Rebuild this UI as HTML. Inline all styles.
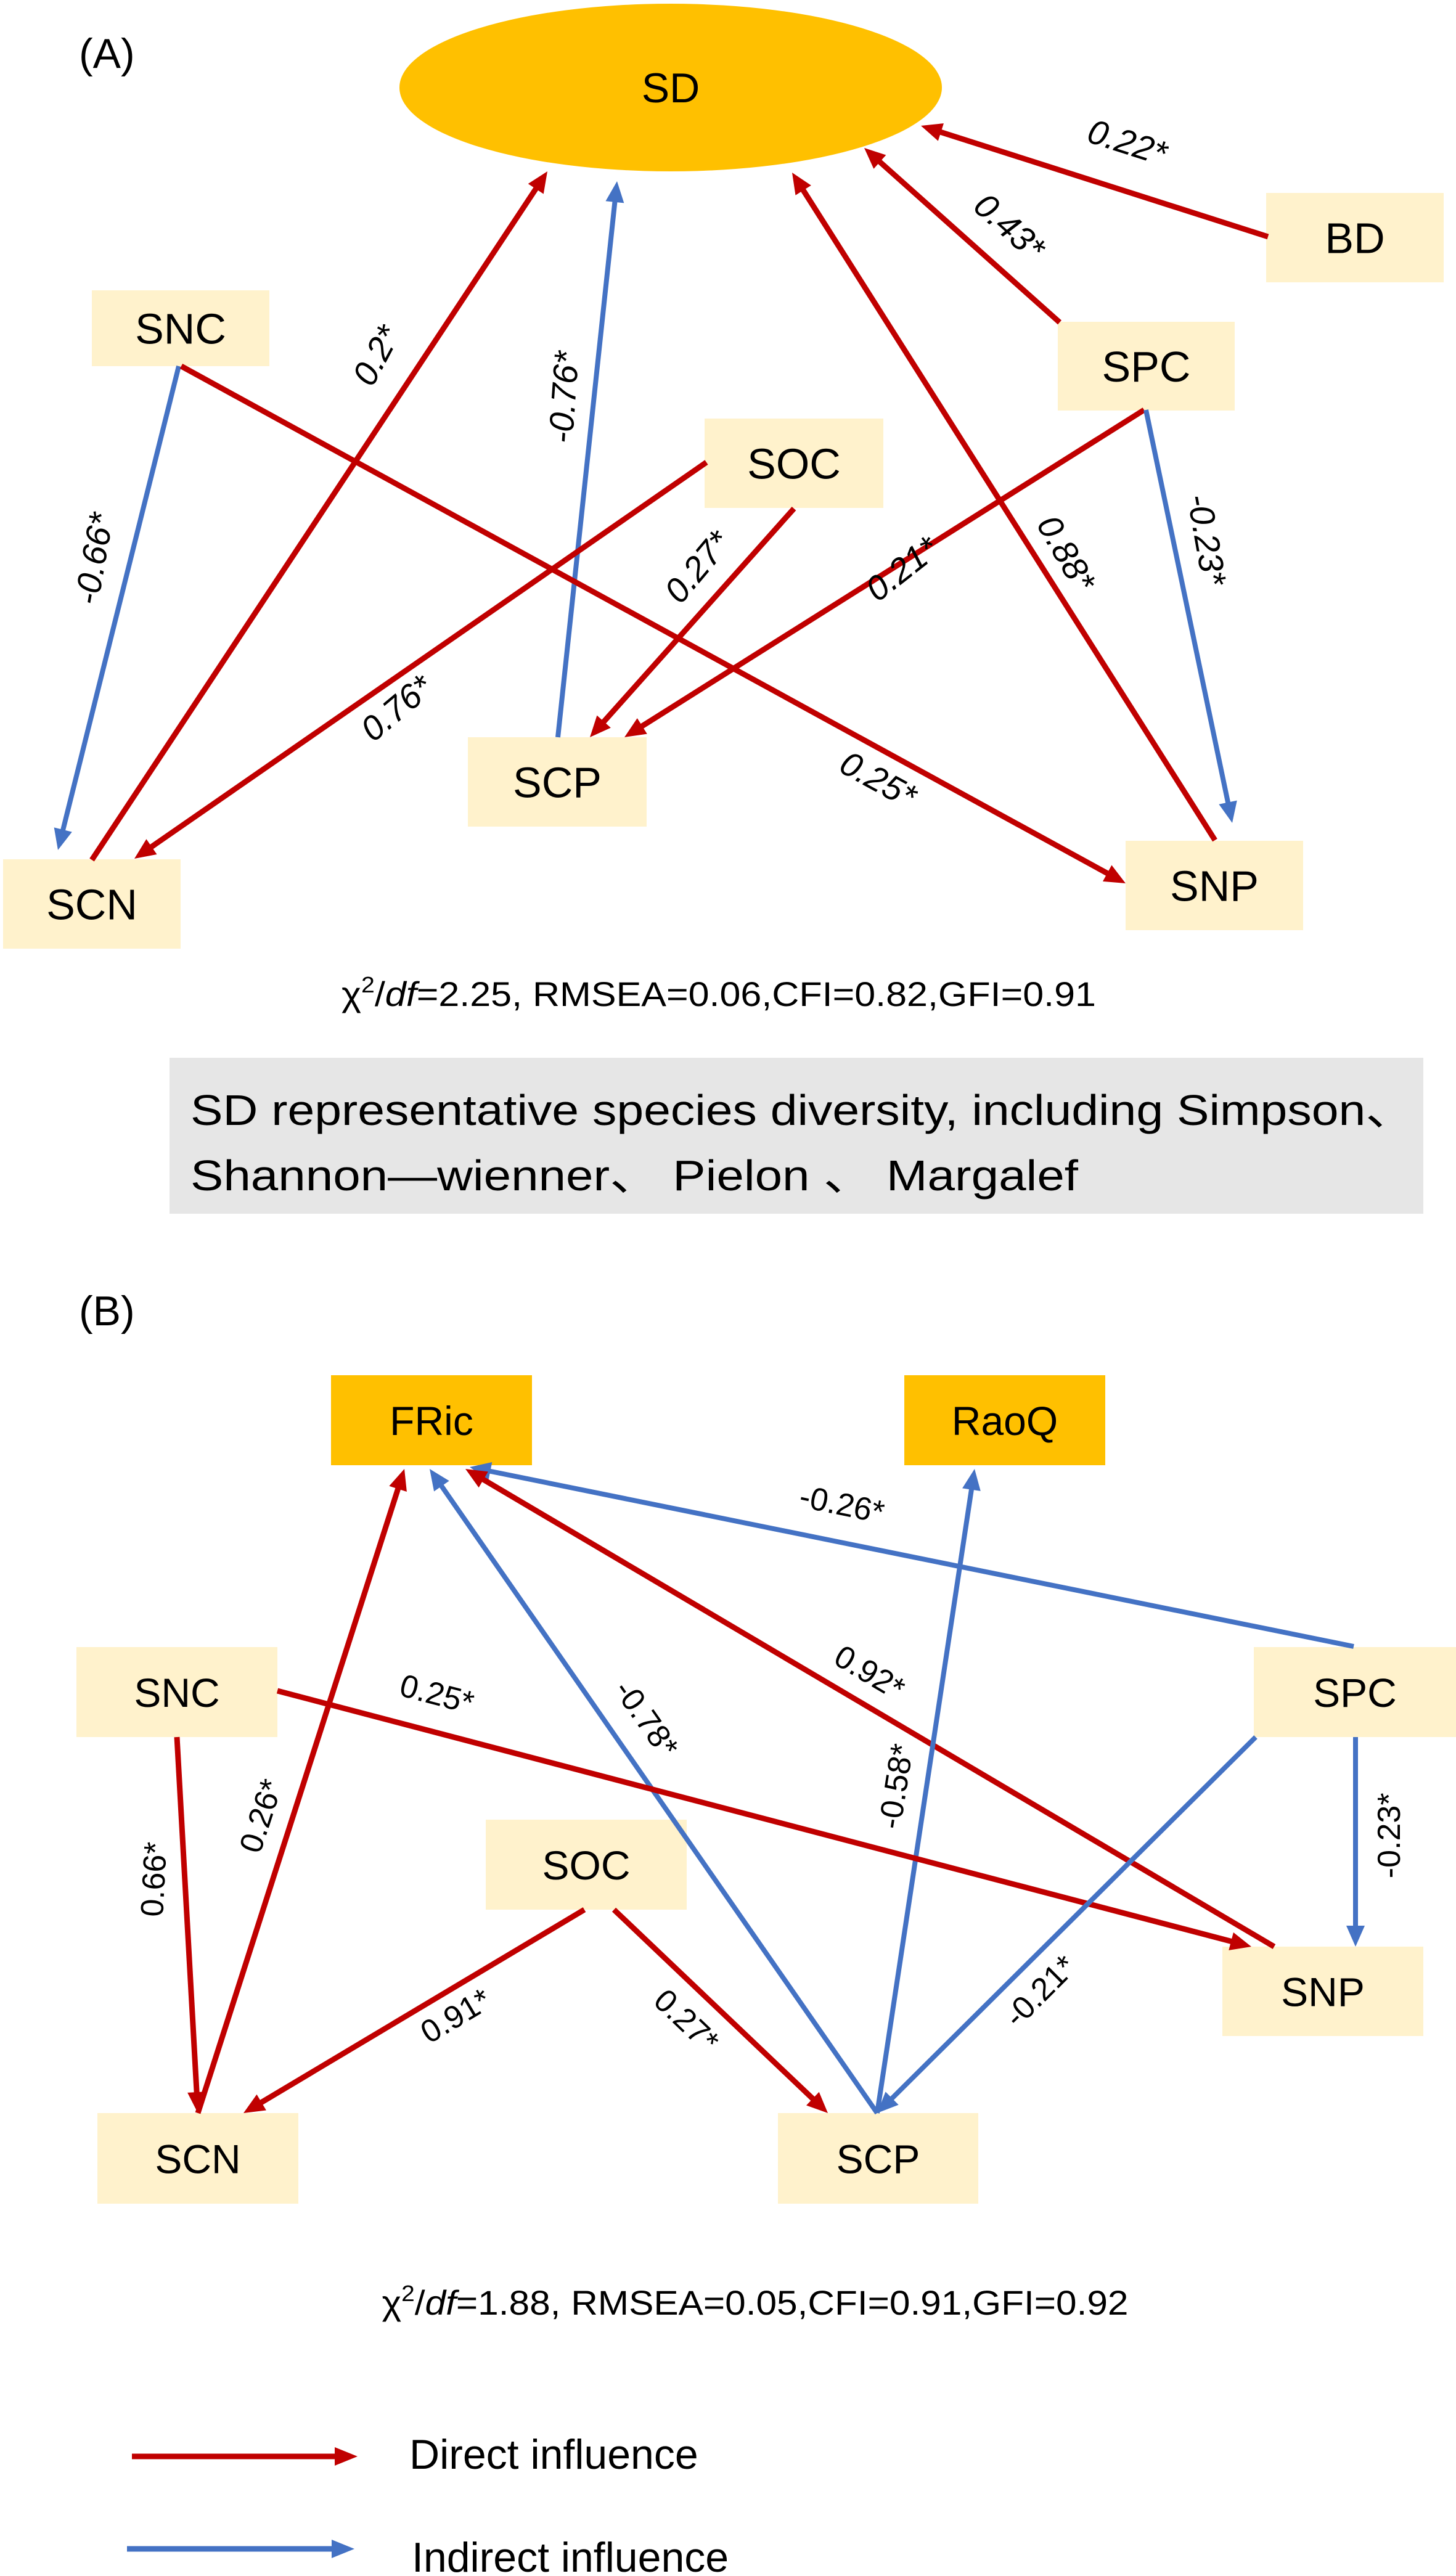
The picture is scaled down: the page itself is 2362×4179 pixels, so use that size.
<!DOCTYPE html>
<html><head><meta charset="utf-8"><style>
html,body{margin:0;padding:0;background:#fff}
svg{display:block}
text{font-family:"Liberation Sans","DejaVu Sans",sans-serif}
</style></head><body>
<svg id="fig" xmlns="http://www.w3.org/2000/svg" width="2362" height="4179" viewBox="0 0 2362 4179">
<rect x="0" y="0" width="2362" height="4179" fill="#fff"/>
<text x="128" y="110" font-size="68">(A)</text>
<ellipse cx="1088" cy="142" rx="440" ry="136" fill="#FFC000"/>
<text x="1088" y="166" font-size="68" text-anchor="middle">SD</text>
<g id="nodesA"></g>
<g id="edgesA"></g>
<text x="1166" y="1632" font-size="56" text-anchor="middle" textLength="1224" lengthAdjust="spacingAndGlyphs">χ<tspan font-size="36" dy="-22">2</tspan><tspan dy="22">/</tspan><tspan font-style="italic">df</tspan>=2.25, RMSEA=0.06,CFI=0.82,GFI=0.91</text>
<rect x="275" y="1716" width="2034" height="253" fill="#E6E6E6"/>
<text x="309" y="1825" font-size="70" textLength="1985" lengthAdjust="spacingAndGlyphs">SD representative species diversity, including Simpson、</text>
<text x="309" y="1931" font-size="70" textLength="1440" lengthAdjust="spacingAndGlyphs">Shannon—wienner、 Pielon 、 Margalef</text>
<text x="128" y="2150" font-size="68">(B)</text>
<g id="nodesB"></g>
<g id="edgesB"></g>
<text x="1225" y="3755" font-size="56" text-anchor="middle" textLength="1211" lengthAdjust="spacingAndGlyphs">χ<tspan font-size="36" dy="-22">2</tspan><tspan dy="22">/</tspan><tspan font-style="italic">df</tspan>=1.88, RMSEA=0.05,CFI=0.91,GFI=0.92</text>
<g>
<line x1="214" y1="3985" x2="545" y2="3985" stroke="#C00000" stroke-width="9"/>
<polygon points="580,3985 543,3970 543,4000" fill="#C00000"/>
<text x="664" y="4005" font-size="68">Direct influence</text>
<line x1="206" y1="4135" x2="540" y2="4135" stroke="#4472C4" stroke-width="9"/>
<polygon points="575,4135 538,4120 538,4150" fill="#4472C4"/>
<text x="668" y="4172" font-size="68">Indirect influence</text>
</g>
</svg>
<script>
// Panel A nodes
const nodeNamesA = ["BD","SNC","SPC","SOC","SCP","SCN","SNP"];
const nodeBoxA = [[2054,313,288,145],[149,471,288,123],[1716,522,287,144],[1143,679,290,145],[759,1196,290,145],[5,1394,288,145],[1826,1364,288,145]];
// Panel A paths: coefficients and types
const edgeCoefA = ["0.22*","0.43*","0.88*","0.2*","-0.76*","-0.66*","0.25*","0.76*","0.27*","0.21*","-0.23*"];
const edgeTypeA = ["d","d","d","d","i","i","d","d","d","d","i"];
const edgeGeomA = [[2057,384,1494,204],[1719,523,1402,240],[1971,1363,1285,280],[149,1395,888,278],[905,1196,1001,294],[290,594,94,1379],[294,594,1826,1433],[1146,750,218,1393],[1288,825,957,1196],[1856,665,1013,1196],[1859,665,1999,1335]];
const labelPosA = [[1829,250,17.7],[1638,387,41.8],[1730,917,60],[610,596,-62],[914,664,-86],[152,926,-80],[1425,1284,28.7],[643,1168,-40],[1131,939,-50],[1463,942,-38],[1958,895,80]];
// Panel B nodes
const nodeNamesB = ["FRic","RaoQ","SNC","SPC","SOC","SNP","SCN","SCP"];
const nodeFillB = ["#FFC000","#FFC000","#FFF2CC","#FFF2CC","#FFF2CC","#FFF2CC","#FFF2CC","#FFF2CC"];
const nodeBoxB = [[537,2231,326,146],[1467,2231,326,146],[124,2672,326,146],[2034,2672,328,146],[788,2952,326,146],[1983,3158,326,145],[158,3428,326,147],[1262,3428,325,147]];
const edgeCoefB = ["-0.26*","0.92*","-0.78*","0.26*","-0.58*","0.25*","0.66*","0.91*","0.27*","-0.21*","-0.23*"];
const edgeTypeB = ["i","d","i","d","i","d","d","d","d","i","i"];
const edgeGeomB = [[2196,2671,762,2380],[2067,3158,755,2383],[1423,3428,697,2383],[321,3428,656,2383],[1423,3428,1581,2383],[450,2743,2030,3158],[287,2818,321,3428],[948,3098,395,3428],[996,3098,1343,3428],[2037,2818,1423,3428],[2199,2818,2199,3158]];
const labelPosB = [[1366,2458,11.5],[1411,2731,30.6],[1049,2806,55],[423,2964,-72],[1453,2916,-81],[709,2766,14.7],[249,3067,-87],[739,3288,-30.8],[1114,3296,43.6],[1687,3248,-45],[2253,2996,-90]];

const NS="http://www.w3.org/2000/svg";
const COL={d:"#C00000",i:"#4472C4"};
function mk(t,a){const e=document.createElementNS(NS,t);for(const k in a)e.setAttribute(k,a[k]);return e;}
function drawNodes(g,names,boxes,fills,fs){
  names.forEach((n,i)=>{
    const b=boxes[i];
    const r=mk("rect",{x:b[0],y:b[1],width:b[2],height:b[3],fill:fills?fills[i]:"#FFF2CC"});
    
    
    g.appendChild(r);
    const t=mk("text",{x:b[0]+b[2]/2,y:b[1]+b[3]/2+fs*0.36,"font-size":fs,"text-anchor":"middle"});
    t.textContent=n;
    
    
    g.appendChild(t);
  });
}
function drawEdges(g,coefs,types,geom,labs,italic,fs,prefix){
  coefs.forEach((c,i)=>{
    const [x1,y1,x2,y2]=geom[i];const col=COL[types[i]];
    const dx=x2-x1,dy=y2-y1,L=Math.hypot(dx,dy),ux=dx/L,uy=dy/L;
    const hl=34,hw=15;
    const bx=x2-ux*hl,by=y2-uy*hl;
    const ln=mk("line",{x1:x1,y1:y1,x2:bx+ux*2,y2:by+uy*2,stroke:col,"stroke-width":types[i]=="d"?9:8});
    
    
    g.appendChild(ln);
    const pts=[[x2,y2],[bx-uy*hw,by+ux*hw],[bx+uy*hw,by-ux*hw]].map(p=>p.join(",")).join(" ");
    const ah=mk("polygon",{points:pts,fill:col});
    
    
    g.appendChild(ah);
    const [lx,ly,ang]=labs[i];
    const t=mk("text",{x:lx,y:ly,"font-size":fs,"text-anchor":"middle",transform:"rotate("+ang+" "+lx+" "+(ly-fs*0.35)+")"});
    if(italic)t.setAttribute("font-style","italic");
    t.textContent=c;
    
    
    g.appendChild(t);
  });
}
drawNodes(document.getElementById("nodesA"),nodeNamesA,nodeBoxA,null,70);
drawEdges(document.getElementById("edgesA"),edgeCoefA,edgeTypeA,edgeGeomA,labelPosA,true,56,"a");
drawNodes(document.getElementById("nodesB"),nodeNamesB,nodeBoxB,nodeFillB,66);
drawEdges(document.getElementById("edgesB"),edgeCoefB,edgeTypeB,edgeGeomB,labelPosB,false,52,"b");
</script>
</body></html>
